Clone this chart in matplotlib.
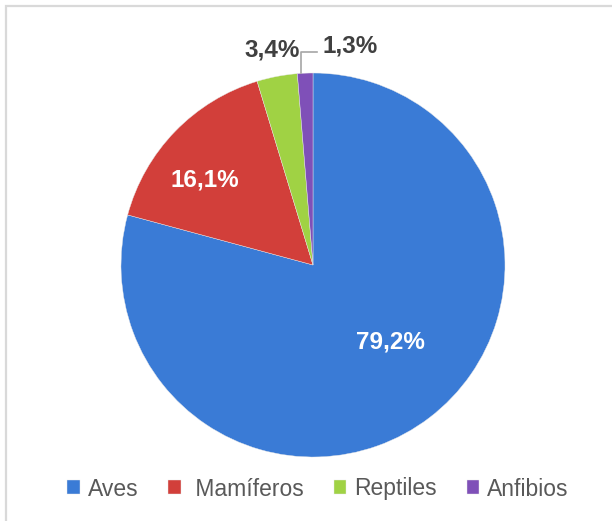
import matplotlib
matplotlib.use('Agg')
import matplotlib.pyplot as plt
import numpy as np
from matplotlib.patches import Rectangle

plt.rcParams['font.family'] = ['Liberation Sans', 'DejaVu Sans']

# datos
categorias = ['Aves', ' Mamíferos', 'Reptiles', 'Anfibios']
porcentajes = [79.2, 16.1, 3.4, 1.3]
etiquetas = ['79,2%', '16,1%', '3,4%', '1,3%']
colores = ['#3a7bd6', '#d23f3a', '#a0d244', '#7f50b8']

fig = plt.figure(figsize=(6.12, 5.21), dpi=100)

# marco gris del gráfico (sólo se ven los bordes superior e izquierdo)
fig.patches.append(Rectangle((6 / 612, -0.1), 1.2, 515 / 521 + 0.1,
                             transform=fig.transFigure, fill=False,
                             edgecolor='#d9d9d9', linewidth=1.6))

r_px = 192
cx, cy = 313, 265
ax = fig.add_axes([(cx - r_px) / 612, (521 - cy - r_px) / 521,
                   2 * r_px / 612, 2 * r_px / 521])

wedges, _ = ax.pie(porcentajes, colors=colores, startangle=90,
                   counterclock=False, radius=1,
                   wedgeprops=dict(edgecolor='#e8e8e8', linewidth=0.3))
ax.set_xlim(-1, 1)
ax.set_ylim(-1, 1)

# etiquetas de datos (posición radial, ángulo)
pos = [(0.57, -45), (0.72, 141.8), (1.14, 100.8), (None, None)]
for w, txt, (r, a) in zip(wedges, etiquetas, pos):
    if r is None:
        continue
    color = 'white' if r < 1 else '#404040'
    ax.text(r * np.cos(np.radians(a)), r * np.sin(np.radians(a)), txt,
            ha='center', va='center', fontsize=17.5, fontweight='bold',
            color=color)

# etiqueta de Anfibios con línea guía
ang = np.radians((wedges[3].theta1 + wedges[3].theta2) / 2)
x0, y0 = np.cos(ang), np.sin(ang)
ax.plot([x0 - 0.02, x0 - 0.02, x0 + 0.06], [y0, y0 + 0.11, y0 + 0.11],
        color='#a6a6a6', lw=1.2, clip_on=False)
ax.text(x0 + 0.09, y0 + 0.14, etiquetas[3], ha='left', va='center',
        fontsize=17.5, fontweight='bold', color='#404040')

leg = fig.legend(wedges, categorias, loc='center',
                 bbox_to_anchor=(318 / 612, 1 - 489 / 521), ncol=4,
                 frameon=False, handlelength=0.55, handleheight=0.55,
                 handletextpad=0.35, columnspacing=1.3, fontsize=16.5)
for t in leg.get_texts():
    t.set_color('#595959')

fig.savefig('out.png', dpi=100)
